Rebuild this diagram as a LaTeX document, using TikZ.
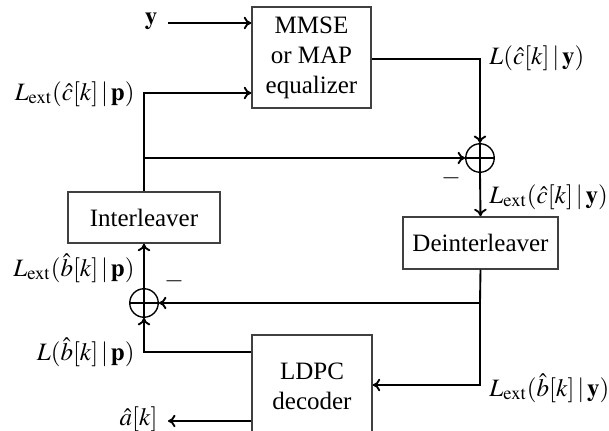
\documentclass[tikz,border=0pt]{standalone}
\usepackage{mathptmx}
\usepackage[no-math]{fontspec}
\setmainfont{Liberation Serif}
\usetikzlibrary{arrows.meta}
\begin{document}
\begin{tikzpicture}[x=0.4pt,y=-0.4pt,
  blk/.style={draw=black!75,line width=0.6pt,align=center,inner sep=1pt,font=\fontsize{10}{12}\selectfont},
  arr/.style={line width=0.75pt,-{To[length=3pt,width=5pt]}},
  ln/.style={line width=0.75pt},
  sumnode/.style={circle,draw,line width=0.55pt,minimum size=11.4pt,inner sep=0pt},
  lbl/.style={inner sep=0pt,font=\fontsize{10}{12}\selectfont}]
\useasboundingbox (0,0) rectangle (609,431);
% blocks
\node[blk,minimum width=47.6pt,minimum height=40.4pt] (mmse) at (311.5,57.5) {MMSE\\or MAP\\equalizer};
\node[blk,minimum width=60.8pt,minimum height=20.4pt] (il) at (144,217.5) {Interleaver};
\node[blk,minimum width=62pt,minimum height=20.8pt] (dl) at (480.5,243) {Deinterleaver};
\node[blk,minimum width=48pt,minimum height=40.8pt] (ldpc) at (312,386) {LDPC\\decoder};
% summing nodes
\node[sumnode] (s1) at (480,158) {};
\node[sumnode] (s2) at (144,303) {};
\draw[line width=0.55pt] (s1.north) -- (s1.south) (s1.west) -- (s1.east);
\draw[line width=0.55pt] (s2.north) -- (s2.south) (s2.west) -- (s2.east);
% coordinates
\coordinate (ys) at (168,23);
\coordinate (c1) at (144,93);
\coordinate (j1) at (144,158);
\coordinate (m0) at (372,59);
\coordinate (j2) at (480,303);
\coordinate (j3) at (480,385);
\coordinate (j4) at (144,352);
\coordinate (ah) at (168,421);
% connectors
\draw[arr] (ys) -- (ys -| mmse.west);
\draw[arr] (il.north) -- (c1) -- (c1 -| mmse.west);
\draw[arr] (j1) -- (s1.west);
\draw[arr] (m0 -| mmse.east) -| (s1.north);
\draw[arr] (s1.south) -- (dl.north);
\draw[ln] (dl.south) -- (j2);
\draw[arr] (j2) -- (s2.east);
\draw[arr] (j2) -- (j3) -- (j3 -| ldpc.east);
\draw[arr] (s2.north) -- (il.south);
\draw[arr] (j4 -| ldpc.west) -- (j4) -- (s2.south);
\draw[arr] (ah -| ldpc.west) -- (ah);
% labels
\node[lbl] (ly) at (151,21) {$\mathbf{y}$};
\node[lbl,anchor=east] (l1) at (135,94) {$L_{\mathrm{ext}}(\hat{c}[k]\,|\,\mathbf{p})$};
\node[lbl,anchor=west] (l2) at (489,58) {$L(\hat{c}[k]\,|\,\mathbf{y})$};
\node[lbl] (m1) at (451,178) {$-$};
\node[lbl,anchor=west] (l3) at (489,197) {$L_{\mathrm{ext}}(\hat{c}[k]\,|\,\mathbf{y})$};
\node[lbl,anchor=east] (l4) at (135,268) {$L_{\mathrm{ext}}(\hat{b}[k]\,|\,\mathbf{p})$};
\node[lbl] (m2) at (174,281) {$-$};
\node[lbl,anchor=east] (l5) at (135,352) {$L(\hat{b}[k]\,|\,\mathbf{p})$};
\node[lbl,anchor=west] (l6) at (489,388) {$L_{\mathrm{ext}}(\hat{b}[k]\,|\,\mathbf{y})$};
\node[lbl,anchor=east] (l7) at (158,419) {$\hat{a}[k]$};
\end{tikzpicture}
\end{document}
